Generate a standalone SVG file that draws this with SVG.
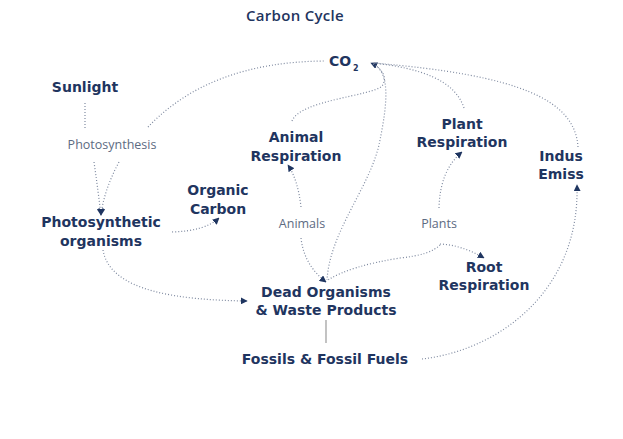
<svg xmlns="http://www.w3.org/2000/svg" width="623" height="439" viewBox="0 0 623 439">
<defs>
<style>
.n{font-family:"DejaVu Sans",sans-serif;font-weight:700;font-size:14px;fill:#1f3560;text-anchor:middle}
.l{font-family:"Open Sans","Noto Sans",sans-serif;font-weight:400;font-size:12.5px;fill:#5d6b82;text-anchor:middle}
.t{font-family:"Open Sans","Noto Sans",sans-serif;font-weight:600;font-size:15px;letter-spacing:0.3px;fill:#1f3560;text-anchor:middle}
.c{fill:none;stroke:#7f8aa0;stroke-width:1.2;stroke-dasharray:1 2}
.s{fill:none;stroke:#9a9a9a;stroke-width:1.2}
</style>
<marker id="a" viewBox="0 0 10 10" refX="9" refY="5" markerWidth="7" markerHeight="7" markerUnits="userSpaceOnUse" orient="auto">
<path d="M0,0 L10,5 L0,10 z" fill="#1f3560"/>
</marker>
</defs>
<rect width="623" height="439" fill="#ffffff"/>
<text class="t" x="295" y="21">Carbon Cycle</text>
<g id="connectors">
<path class="c" d="M85,103 L85,128"/>
<path class="c" d="M148,127 Q210,62 324,61"/>
<path class="c" d="M94,162 Q98,190 101,215" marker-end="url(#a)"/>
<path class="c" d="M119,162 Q104,190 101,215" marker-end="url(#a)"/>
<path class="c" d="M172,232 Q205,231 219,218" marker-end="url(#a)"/>
<path class="c" d="M103,250 C110,292 180,300 247,301" marker-end="url(#a)"/>
<path class="c" d="M301,207 Q298,180 288,165" marker-end="url(#a)"/>
<path class="c" d="M301,238 Q304,265 326,282" marker-end="url(#a)"/>
<path class="c" d="M292,121 C300,100 372,96 382,86 C388,78 382,68 371,63" marker-end="url(#a)"/>
<path class="c" d="M373,64 C392,72 386,110 380,140 C372,185 330,230 327,280"/>
<path class="c" d="M439,208 Q440,170 462,152" marker-end="url(#a)"/>
<path class="c" d="M464,108 C455,80 420,68 373,63"/>
<path class="c" d="M578,147 C575,100 520,75 373,63"/>
<path class="c" d="M440,244 Q462,245 484,258" marker-end="url(#a)"/>
<path class="c" d="M440,245 Q430,255 400,258 Q350,266 328,280"/>
<path class="c" d="M422,359 C500,350 580,290 577,185" marker-end="url(#a)"/>
<path class="s" d="M326,320 L326,343"/>
</g>
<g id="co2"><text class="n" x="329" y="66" style="text-anchor:start">CO</text><text class="n" x="353" y="71" style="text-anchor:start;font-size:8px">2</text></g>
<g id="sunlight"><text class="n" x="85" y="92">Sunlight</text></g>
<g id="photosynthesis"><text class="l" x="112" y="149">Photosynthesis</text></g>
<g id="animal-respiration"><text class="n" x="296" y="142">Animal</text><text class="n" x="296" y="161">Respiration</text></g>
<g id="plant-respiration"><text class="n" x="462" y="129">Plant</text><text class="n" x="462" y="147">Respiration</text></g>
<g id="industrial-emissions"><text class="n" x="561" y="161">Indus</text><text class="n" x="561" y="179">Emiss</text></g>
<g id="organic-carbon"><text class="n" x="218" y="195">Organic</text><text class="n" x="218" y="214">Carbon</text></g>
<g id="photosynthetic-organisms"><text class="n" x="101" y="227">Photosynthetic</text><text class="n" x="101" y="246">organisms</text></g>
<g id="animals"><text class="l" x="302" y="228">Animals</text></g>
<g id="plants"><text class="l" x="439" y="228">Plants</text></g>
<g id="root-respiration"><text class="n" x="484" y="272">Root</text><text class="n" x="484" y="290">Respiration</text></g>
<g id="dead-organisms"><text class="n" x="326" y="297">Dead Organisms</text><text class="n" x="326" y="315">&amp; Waste Products</text></g>
<g id="fossils"><text class="n" x="325" y="364">Fossils &amp; Fossil Fuels</text></g>
</svg>
